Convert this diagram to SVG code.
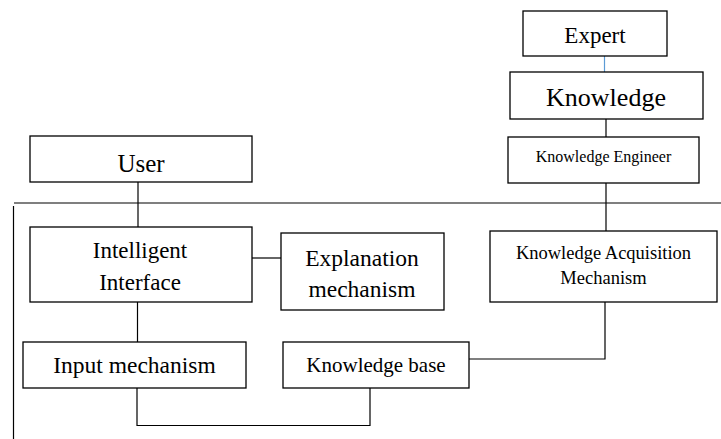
<svg xmlns="http://www.w3.org/2000/svg" width="721" height="439" viewBox="0 0 721 439">
<style>
rect{fill:#fff;stroke:#000;stroke-width:1.3}
text{font-family:'Liberation Serif','Times New Roman','DejaVu Serif',serif;fill:#000;text-anchor:middle}
.c line,.c polyline{stroke:#000;stroke-width:1.2;fill:none}
</style>
<rect x="0" y="0" width="721" height="439" style="stroke:none"/>
<g class="c" id="connectors">
<line x1="604.5" y1="56" x2="604.5" y2="72" style="stroke:#5b9bd5"/>
<line x1="606" y1="119" x2="606" y2="137"/>
<line x1="606" y1="183" x2="606" y2="231"/>
<line x1="138" y1="182" x2="138" y2="227"/>
<line x1="14" y1="203" x2="721" y2="203"/>
<line x1="13.5" y1="206" x2="13.5" y2="439"/>
<line x1="252" y1="258" x2="281" y2="258"/>
<line x1="137.5" y1="302" x2="137.5" y2="342"/>
<polyline points="605,302 605,359 469,359"/>
<polyline points="370,388 370,425.5 137,425.5 137,388"/>
</g>
<g id="expert"><rect x="523" y="11" width="144" height="45"/><text x="595" y="42.5" font-size="23">Expert</text></g>
<g id="knowledge"><rect x="510" y="72" width="193" height="47"/><text x="606" y="106" font-size="26">Knowledge</text></g>
<g id="knowledge-engineer"><rect x="508" y="137" width="191" height="46"/><text x="603.5" y="162" font-size="16">Knowledge Engineer</text></g>
<g id="user"><rect x="30" y="136" width="222" height="46"/><text x="141" y="172" font-size="25">User</text></g>
<g id="intelligent-interface"><rect x="30" y="227" width="222" height="75"/><text x="140" y="258" font-size="23">Intelligent</text><text x="140" y="290" font-size="23">Interface</text></g>
<g id="explanation"><rect x="281" y="233" width="163" height="77"/><text x="362" y="265.5" font-size="23.5">Explanation</text><text x="362" y="296.5" font-size="23.5">mechanism</text></g>
<g id="knowledge-acquisition"><rect x="490" y="231" width="227" height="71"/><text x="603.5" y="259" font-size="18.5">Knowledge Acquisition</text><text x="603.5" y="284" font-size="18.5">Mechanism</text></g>
<g id="knowledge-base"><rect x="283" y="342" width="186" height="46"/><text x="376" y="371.5" font-size="21">Knowledge base</text></g>
<g id="input-mechanism"><rect x="23" y="342" width="223" height="46"/><text x="134.5" y="373" font-size="23.5">Input mechanism</text></g>
</svg>
